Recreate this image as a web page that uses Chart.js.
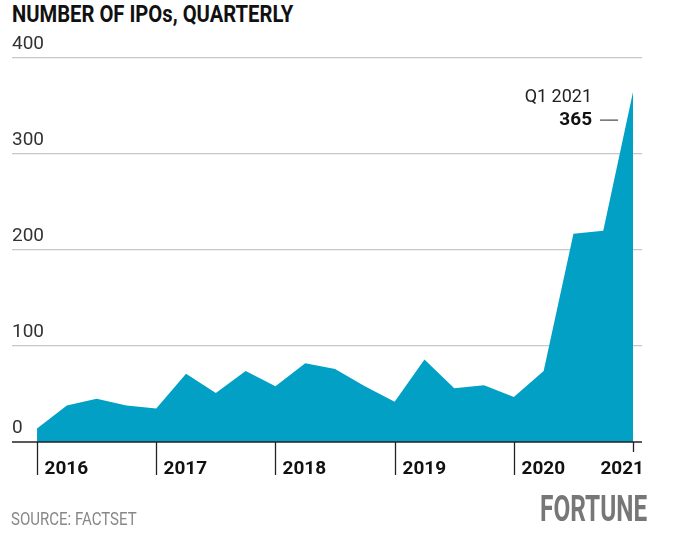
<!DOCTYPE html>
<html>
<head>
<meta charset="utf-8">
<script src="https://cdn.jsdelivr.net/npm/chart.js@4"></script>
<style>
  body { margin: 0; background: #fff; }
  #wrap { position: relative; width: 675px; height: 554px; overflow: hidden; }
  #c { position: absolute; left: 0; top: 0; }
  .txt { position: absolute; white-space: nowrap; line-height: 1; transform-origin: left top; font-family: Roboto, sans-serif; }
  .title { left: 12px; top: 2px; font-size: 24px; font-weight: bold; color: #111; }
  .source { left: 11px; top: 510px; font-size: 18px; color: #888; }
  .brand { left: 540px; top: 491px; font-size: 36px; font-weight: bold; color: #777; }
</style>
</head>
<body>
<div id="wrap">
  <div class="txt title" data-w="281">NUMBER OF IPOs, QUARTERLY</div>
  <canvas id="c" width="675" height="554"></canvas>
  <div class="txt source" data-w="126">SOURCE: FACTSET</div>
  <div class="txt brand" data-w="107">FORTUNE</div>
</div>
<script>
// quarterly IPO counts, Q1 2016 .. Q1 2021
const quarters = ['Q1 2016','Q2 2016','Q3 2016','Q4 2016','Q1 2017','Q2 2017','Q3 2017','Q4 2017',
  'Q1 2018','Q2 2018','Q3 2018','Q4 2018','Q1 2019','Q2 2019','Q3 2019','Q4 2019',
  'Q1 2020','Q2 2020','Q3 2020','Q4 2020','Q1 2021'];
const ipos = [14, 38, 45, 38, 35, 71, 51, 74, 58, 82, 76, 58, 42, 86, 56, 59, 47, 74, 217, 220, 365];
const yearLabels = ['2016', '2017', '2018', '2019', '2020', '2021'];
const yTicks = [0, 100, 200, 300, 400];

// squeeze the condensed headline/footer text to the reference widths
document.querySelectorAll('[data-w]').forEach(el => {
  el.style.transform = 'scaleX(' + (+el.dataset.w / el.offsetWidth) + ')';
});

const points = ipos.map((v, i) => ({ x: i, y: v }));

// year ticks under the axis + baseline + callout
const axisDecor = {
  id: 'axisDecor',
  afterDraw(chart) {
    const { ctx, chartArea } = chart;
    const xs = chart.scales.x, ys = chart.scales.y;
    const base = ys.getPixelForValue(0);
    ctx.save();
    ctx.strokeStyle = '#222';
    ctx.lineWidth = 1.3;
    ctx.beginPath();
    ctx.moveTo(chartArea.left, base);
    ctx.lineTo(chartArea.right, base);
    ctx.stroke();
    ctx.font = 'bold 19px Roboto, sans-serif';
    ctx.fillStyle = '#111';
    ctx.textBaseline = 'middle';
    yearLabels.forEach((lab, k) => {
      const px = Math.round(xs.getPixelForValue(k * 4)) + 0.5;
      const last = k === yearLabels.length - 1;
      ctx.beginPath();
      ctx.moveTo(px, base);
      ctx.lineTo(px, base + (last ? 10 : 33));
      ctx.stroke();
      if (last) {
        ctx.textAlign = 'right';
        ctx.fillText(lab, chartArea.right + 2, base + 27);
      } else {
        ctx.textAlign = 'left';
        ctx.fillText(lab, px + 7, base + 27);
      }
    });
    // callout on last point
    const li = ipos.length - 1;
    const lx = xs.getPixelForValue(li);
    const ly = ys.getPixelForValue(ipos[li]);
    ctx.textAlign = 'right';
    ctx.font = '18px Roboto, sans-serif';
    ctx.fillStyle = '#222';
    ctx.fillText(quarters[li], lx - 41, ly + 6);
    ctx.font = 'bold 19px Roboto, sans-serif';
    ctx.fillStyle = '#111';
    ctx.fillText(String(ipos[li]), lx - 41, ly + 29);
    ctx.lineWidth = 1;
    ctx.beginPath();
    ctx.moveTo(lx - 33, ly + 28.5);
    ctx.lineTo(lx - 15, ly + 28.5);
    ctx.stroke();
    ctx.restore();
  }
};

new Chart(document.getElementById('c'), {
  type: 'line',
  data: {
    datasets: [{
      data: points,
      fill: 'origin',
      backgroundColor: '#02a0c5',
      borderWidth: 0,
      pointRadius: 0,
      tension: 0
    }]
  },
  options: {
    responsive: false,
    animation: false,
    layout: { padding: { left: 12, right: 33, top: 58, bottom: 112 } },
    plugins: { legend: { display: false }, tooltip: { enabled: false } },
    scales: {
      x: {
        type: 'linear',
        min: -0.84,
        max: 20.3,
        display: false
      },
      y: {
        min: 0,
        max: 400,
        afterBuildTicks: (s) => { s.ticks = yTicks.map(v => ({ value: v })); },
        border: { display: false },
        grid: { color: (c) => c.tick && c.tick.value === 0 ? 'rgba(0,0,0,0)' : '#c8c8c8', lineWidth: 1.2, drawTicks: false },
        ticks: {
          mirror: true,
          padding: 0,
          labelOffset: -14,
          color: '#333',
          font: { family: 'Roboto', size: 19 },
          callback: (v) => String(v)
        }
      }
    }
  },
  plugins: [axisDecor]
});
</script>
</body>
</html>
